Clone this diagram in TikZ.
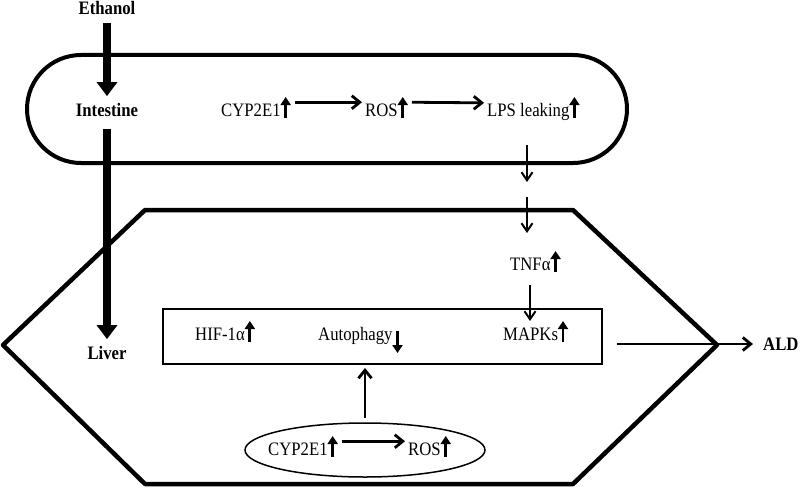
\documentclass[tikz,border=0pt]{standalone}
\usepackage{fontspec}
\setmainfont[FakeStretch=0.88]{Liberation Serif}
\usetikzlibrary{arrows.meta}
\newcommand\upar{\tikz[baseline=0pt,x=1pt,y=1pt]\draw[line width=2.8pt,-{Triangle[width=10pt,length=8pt]}] (0,-1.5)--(0,19);}
\newcommand\dnar{\tikz[baseline=0pt,x=1pt,y=1pt]\draw[line width=2.8pt,-{Triangle[width=10pt,length=8pt]}] (0,9)--(0,-13);}
\tikzset{
  lbl/.style={inner sep=0pt, font=\fontsize{19}{22}\selectfont},
  blbl/.style={inner sep=0pt, font=\fontsize{19}{22}\selectfont\bfseries},
  bigarr/.style={line width=8pt, -{Triangle[width=20pt,length=14pt]}},
  midarr/.style={line width=2.8pt, -{Straight Barb[width=13pt,length=8pt]}},
  thinarr/.style={line width=2pt, -{Straight Barb[width=11pt,length=8pt]}},
  outline/.style={line width=4.5pt, line join=round},
}
\begin{document}
\begin{tikzpicture}[x=1pt,y=-1pt]
\useasboundingbox (0,0) rectangle (800,487);
% shapes
\draw[line width=4pt, rounded corners=54pt] (27,55) rectangle (627,163);
\draw[outline] (145,210) -- (573,210) -- (717,345) -- (573,484) -- (145,484) -- (3,345) -- cycle;
\draw[line width=1.5pt] (163,309) rectangle (602,364);
\draw[line width=1.5pt] (365,450) ellipse [x radius=120, y radius=27];

% labels
\node[blbl] (ethanol) at (107,8) {Ethanol};
\node[blbl] (intestine) at (107,110) {Intestine};
\node[blbl] (liver) at (107,353) {Liver};
\node[blbl, anchor=west] (ald) at (763,344) {ALD};

\node[lbl, anchor=base west] (cyp1) at (221,116) {CYP2E1\upar};
\node[lbl, anchor=base west] (ros1) at (365,116) {ROS\upar};
\node[lbl, anchor=base west] (lps) at (487,116) {LPS leaking\upar};

\node[lbl, anchor=base west] (tnf) at (510,270) {TNFα\upar};

\node[lbl, anchor=base west] (hif) at (195,340) {HIF-1α\upar};
\node[lbl, anchor=base west] (auto) at (318,340) {Autophagy\dnar};
\node[lbl, anchor=base west] (mapk) at (503,340) {MAPKs\upar};

\node[lbl, anchor=base west] (cyp2) at (268,455) {CYP2E1\upar};
\node[lbl, anchor=base west] (ros2) at (408,455) {ROS\upar};

% connectors
\coordinate (m1) at (527,182);
\coordinate (m2) at (527,197);
\coordinate (boxtop) at (530,321);
\coordinate (boxbot) at (365,368);
\coordinate (boxright) at (617,344);

\draw[bigarr, shorten <=8pt, shorten >=7pt] (ethanol.south) -- (intestine.north);
\draw[bigarr, shorten <=12pt, shorten >=7pt] (intestine.south) -- (liver.north);

\draw[midarr] ([xshift=4pt,yshift=5pt]cyp1.east) -- ([xshift=-3pt,yshift=5pt]ros1.west);
\draw[midarr] ([xshift=4pt,yshift=5pt]ros1.east) -- ([xshift=-3pt,yshift=5pt]lps.west);
\draw[thinarr] (527,145) -- (m1);
\draw[thinarr] (m2) -- (527,233);
\draw[thinarr] (530,285) -- (boxtop);
\draw[midarr] (365,418) -- (boxbot);
\draw[midarr] (boxright) -- ([xshift=-10pt]ald.west);
\draw[midarr] ([xshift=4pt,yshift=5pt]cyp2.east) -- ([xshift=-3pt,yshift=5pt]ros2.west);
\end{tikzpicture}
\end{document}
